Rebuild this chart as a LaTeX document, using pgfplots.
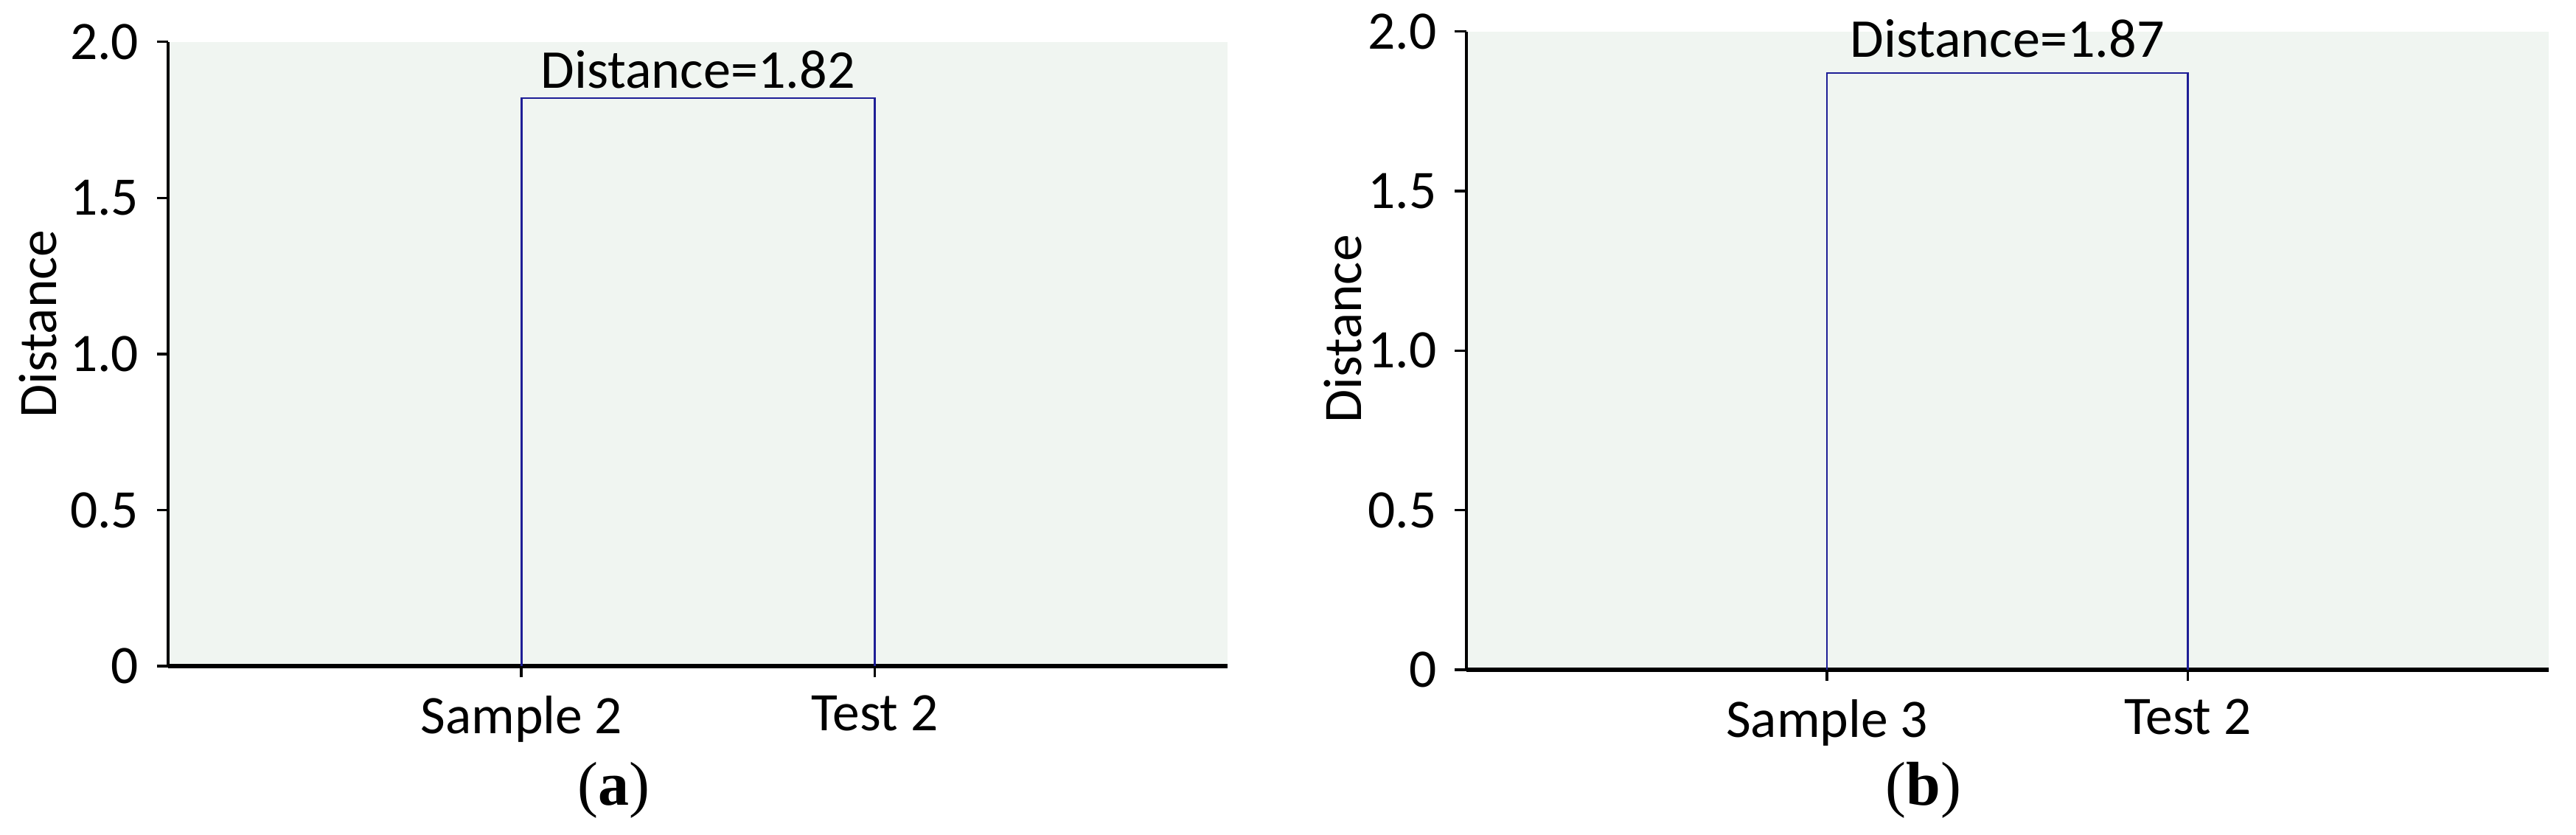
\documentclass[border=0pt]{standalone}
\usepackage{fontspec}
\setmainfont{Carlito}
\newfontfamily\capfont{Liberation Serif}
\usepackage{pgfplots}
\pgfplotsset{compat=1.18}
\definecolor{plotbg}{RGB}{240,245,241}
\definecolor{dendro}{RGB}{30,30,150}

\pgfplotsset{
  dendro axis/.style={
    scale only axis,
    clip=false,
    xmin=0, xmax=3, ymin=0, ymax=2,
    axis x line=bottom, axis y line=left,
    axis line style={-, line width=0.6pt},
    x axis line style={line width=0.8pt},
    axis background/.style={fill=plotbg},
    tick align=outside,
    major tick length=2.2pt,
    tick style={black, line width=0.5pt},
    xtick={1,2},
    ytick={0,0.5,1,1.5,2},
    yticklabels={0,0.5,1.0,1.5,2.0},
    /pgf/number format/assume math mode=true,
    tick label style={font=\fontsize{10.5}{12}\selectfont},
    label style={font=\fontsize{10.5}{12}\selectfont},
    ylabel=Distance,
  },
}

\begin{document}
\begin{tikzpicture}
\path[use as bounding box] (0,0) rectangle (499.14pt,-161.71pt);

% (a)
\begin{axis}[dendro axis,
    at={(32.6pt,-129.0pt)}, anchor=south west,
    width=205.3pt, height=120.9pt,
    xticklabels={Sample 2, Test 2},
    ylabel style={at={(axis description cs:-0.123,0.548)}, anchor=center},
  ]
  \addplot[dendro, line width=0.4pt] coordinates {(1,0) (1,1.82) (2,1.82) (2,0)};
  \node[anchor=base, yshift=1.9pt, font=\fontsize{10.6}{12}\selectfont]
    at (axis cs:1.5,1.82) {Distance=1.82};
\end{axis}

% (b)
\begin{axis}[dendro axis,
    at={(284.1pt,-129.7pt)}, anchor=south west,
    width=209.7pt, height=123.6pt,
    xticklabels={Sample 3, Test 2},
    ylabel style={at={(axis description cs:-0.114,0.534)}, anchor=center},
  ]
  \addplot[dendro, line width=0.4pt] coordinates {(1,0) (1,1.87) (2,1.87) (2,0)};
  \node[anchor=base, yshift=3.1pt, font=\fontsize{10.6}{12}\selectfont]
    at (axis cs:1.5,1.87) {Distance=1.87};
\end{axis}

\node[font=\capfont\fontsize{12}{14}\selectfont] at (118.9pt,-153.1pt) {(\textbf{a})};
\node[font=\capfont\fontsize{12}{14}\selectfont] at (372.7pt,-153.1pt) {(\textbf{b})};
\end{tikzpicture}
\end{document}
